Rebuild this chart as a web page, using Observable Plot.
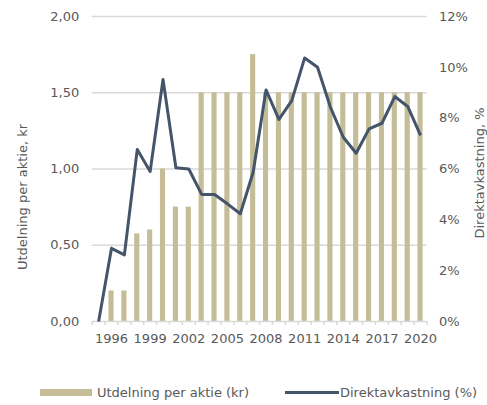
<!DOCTYPE html>
<html>
<head>
<meta charset="utf-8">
<script src="https://cdn.jsdelivr.net/npm/d3@7"></script>
<script src="https://cdn.jsdelivr.net/npm/@observablehq/plot@0.6"></script>
<style>
  html, body { margin: 0; padding: 0; background: #fff; }
  body { width: 487px; height: 405px; overflow: hidden; font-family: "DejaVu Sans", Verdana, sans-serif; }
  #chart svg { display: block; }
  #legend { position: relative; height: 45px; width: 487px; font-size: 13px; color: #595959; }
  #legend .sw { position: absolute; }
  #legend .lb { position: absolute; top: 24px; line-height: 17px; white-space: nowrap; }
</style>
</head>
<body>
<div id="chart"></div>
<div id="legend">
  <div class="sw" style="left:40px; top:29px; width:52px; height:7px; background:#c4bd97"></div>
  <div class="lb" style="left:97px">Utdelning per aktie (kr)</div>
  <div class="sw" style="left:285px; top:31px; width:54px; height:3px; background:#44546a"></div>
  <div class="lb" style="left:340px">Direktavkastning (%)</div>
</div>
<script>
const years = ["1995","1996","1997","1998","1999","2000","2001","2002","2003","2004","2005","2006","2007","2008","2009","2010","2011","2012","2013","2014","2015","2016","2017","2018","2019","2020"];
const dividend = [0, 0.20, 0.20, 0.575, 0.60, 1.00, 0.75, 0.75, 1.50, 1.50, 1.50, 1.50, 1.75, 1.50, 1.50, 1.50, 1.50, 1.50, 1.50, 1.50, 1.50, 1.50, 1.50, 1.50, 1.50, 1.50];
const yieldPct = [0, 2.88, 2.62, 6.77, 5.90, 9.52, 6.05, 6.00, 5.00, 5.00, 4.63, 4.24, 5.87, 9.11, 7.95, 8.69, 10.37, 10.00, 8.43, 7.25, 6.62, 7.58, 7.80, 8.85, 8.46, 7.32];
const leftTicks = [0, 0.5, 1.0, 1.5, 2.0];
const rightTicks = [0, 2, 4, 6, 8, 10, 12];
const xLabelYears = ["1996","1999","2002","2005","2008","2011","2014","2017","2020"];
const leftTitle = "Utdelning per aktie, kr";
const rightTitle = "Direktavkastning, %";

const pctMax = 12, divMax = 2;
const toY = p => p * divMax / pctMax;
const data = years.map((y, i) => ({year: y, div: dividend[i], pct: yieldPct[i]}));

const W = 487, H = 360;
const mL = 91.7, mR = 60.5, mT = 16, mB = 39;
const step = (W - mL - mR) / years.length;
const grey = "#d9d9d9", txt = "#595959";

const chart = Plot.plot({
  width: W, height: H,
  marginLeft: mL, marginRight: mR, marginTop: mT, marginBottom: mB,
  style: {fontFamily: "DejaVu Sans, Verdana, sans-serif", fontSize: "13px", color: txt, background: "#fff", overflow: "visible"},
  x: {type: "band", domain: years, paddingInner: 0.6, paddingOuter: 0.3, round: false, axis: null},
  y: {domain: [0, divMax], axis: null},
  marks: [
    Plot.gridY(leftTicks.filter(d => d > 0), {stroke: grey, strokeOpacity: 1, strokeWidth: 1.5}),
    Plot.barY(data, {x: "year", y: "div", fill: "#c4bd97"}),
    Plot.ruleY([0], {stroke: grey, strokeWidth: 1.5}),
    Plot.axisX({ticks: years, tickSize: 4, tickFormat: () => "", dx: -step / 2, stroke: grey, strokeWidth: 1.5, label: null}),
    Plot.axisX({ticks: [years[years.length - 1]], tickSize: 4, tickFormat: () => "", dx: step / 2, stroke: grey, strokeWidth: 1.5, label: null}),
    Plot.axisX({ticks: xLabelYears, tickSize: 0, tickPadding: 12, fill: txt, fontSize: 13, label: null}),
    Plot.axisY({ticks: leftTicks, tickSize: 0, tickPadding: 13, tickFormat: d => d.toFixed(2).replace(".", ","), fill: txt, fontSize: 13, label: null}),
    Plot.axisY({anchor: "right", ticks: rightTicks.map(toY), tickSize: 0, tickPadding: 12, tickFormat: d => Math.round(d * pctMax / divMax) + "%", fill: txt, fontSize: 13, label: null}),
    Plot.lineY(data, {x: "year", y: d => toY(d.pct), stroke: "#44546a", strokeWidth: 3, strokeLinejoin: "round", strokeLinecap: "butt"}),
    Plot.text([leftTitle], {frameAnchor: "left", textAnchor: "middle", rotate: -90, dx: -mL + 22.3, dy: 28, fill: txt, fontSize: 13}),
    Plot.text([rightTitle], {frameAnchor: "right", textAnchor: "middle", rotate: -90, dx: mR - 8, dy: 4, fill: txt, fontSize: 13})
  ]
});
document.getElementById("chart").appendChild(chart);
</script>
</body>
</html>
